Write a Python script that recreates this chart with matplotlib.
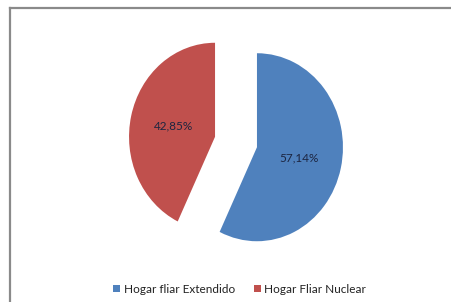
import matplotlib
matplotlib.use("Agg")
import matplotlib.pyplot as plt
from matplotlib.lines import Line2D

# data
categories = ["Hogar fliar Extendido", "Hogar Fliar Nuclear"]
values = [57.14, 42.85]
pct_labels = ["57,14%", "42,85%"]
colors = ["#4F81BD", "#C0504D"]

plt.rcParams['font.family'] = ['Lato', 'DejaVu Sans']

fig = plt.figure(figsize=(4.52, 3.02), dpi=100)
ax = fig.add_axes([0, 0, 1, 1])

lab_iter = iter(pct_labels)
wedges, texts, autotexts = ax.pie(values, colors=colors, startangle=90,
                                  counterclock=False, explode=[0.25, 0.25],
                                  autopct=lambda p: next(lab_iter),
                                  pctdistance=0.5,
                                  textprops={'fontsize': 8.5, 'color': '#1c2540'})

# slightly stretched ellipse like the original
ax.set_aspect('auto')
ax.set_xlim(-236 / 86, 216 / 86)
ax.set_ylim(-160 / 94, 142 / 94)
ax.axis('off')

ax.legend(wedges, categories, loc='center', bbox_to_anchor=(0.53, 0.043),
          ncol=2, frameon=False, fontsize=8.5, handlelength=0.6,
          handleheight=0.6, handletextpad=0.3, columnspacing=1.6,
          labelcolor='#222222')

# border of the chart area (only top and left visible)
fig.add_artist(Line2D([9.5 / 452, 1], [1 - 7.5 / 302, 1 - 7.5 / 302],
                      transform=fig.transFigure, color='#8a8a8a', lw=1.6))
fig.add_artist(Line2D([9.5 / 452, 9.5 / 452], [0, 1 - 7.5 / 302],
                      transform=fig.transFigure, color='#8a8a8a', lw=1.6))

fig.savefig("out.png", dpi=100)
